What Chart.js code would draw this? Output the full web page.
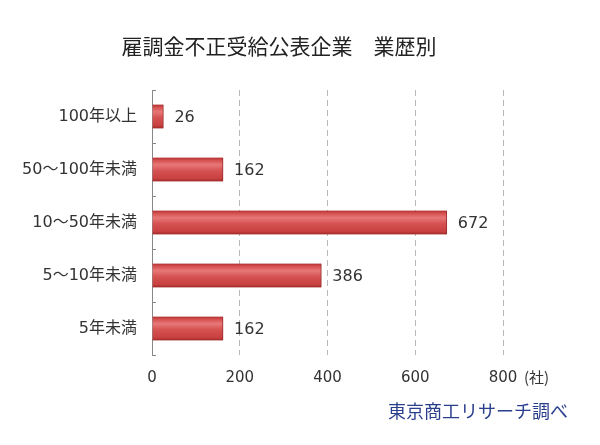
<!DOCTYPE html>
<html>
<head>
<meta charset="utf-8">
<script src="https://cdn.jsdelivr.net/npm/chart.js@4/dist/chart.umd.min.js"></script>
<style>
  html, body { margin: 0; padding: 0; background: #fff; }
  #chart { display: block; }
</style>
</head>
<body>
<canvas id="chart" width="600" height="445"></canvas>
<script>
const categories = ['100年以上', '50～100年未満', '10～50年未満', '5～10年未満', '5年未満'];
const companies = [26, 162, 672, 386, 162];
const xTicks = [0, 200, 400, 600, 800];
const titleText = '雇調金不正受給公表企業　業歴別';
const unitText = '(社)';
const sourceText = '東京商工リサーチ調べ';

const FONT = "'Noto Sans CJK JP', 'Noto Sans', sans-serif";
const NUM_FONT = "'DejaVu Sans', 'Noto Sans CJK JP', sans-serif";
const BAR_T = 24;

function barGradient(c) {
    const chart = c.chart;
    const y = chart.scales && chart.scales.y;
    if (!y || c.dataIndex == null) return '#d04848';
    const mid = y.getPixelForValue(c.dataIndex);
    if (!Number.isFinite(mid)) return '#d04848';
    const g = chart.ctx.createLinearGradient(0, mid - BAR_T / 2, 0, mid + BAR_T / 2);
    g.addColorStop(0, '#b03030');
    g.addColorStop(0.12, '#d65050');
    g.addColorStop(0.3, '#e77878');
    g.addColorStop(0.55, '#d65252');
    g.addColorStop(0.88, '#c84040');
    g.addColorStop(1, '#9c2626');
    return g;
}

const extras = {
    id: 'extras',
    afterDatasetsDraw(chart) {
        const ctx = chart.ctx;
        const meta = chart.getDatasetMeta(0);
        const ys = chart.scales.y;
        const area = chart.chartArea;
        ctx.save();
        // small inward tick marks between categories
        ctx.strokeStyle = '#888';
        ctx.lineWidth = 1;
        const step = ys.getPixelForValue(1) - ys.getPixelForValue(0);
        for (let i = 0; i <= categories.length; i++) {
            const py = Math.round(ys.getPixelForValue(i) - step / 2) + 0.5;
            ctx.beginPath();
            ctx.moveTo(area.left, py);
            ctx.lineTo(area.left + 4, py);
            ctx.stroke();
        }
        // value labels
        ctx.font = '16px ' + NUM_FONT;
        ctx.fillStyle = '#333';
        ctx.textAlign = 'left';
        ctx.textBaseline = 'middle';
        meta.data.forEach((bar, i) => {
            ctx.fillText(String(companies[i]), bar.x + 11, bar.y + 1);
        });
        ctx.restore();
    },
    afterDraw(chart) {
        const ctx = chart.ctx;
        const x = chart.scales.x;
        ctx.save();
        ctx.textBaseline = 'middle';
        // title
        ctx.font = '21px ' + FONT;
        ctx.fillStyle = '#222';
        ctx.textAlign = 'center';
        ctx.fillText(titleText, 279, 46);
        // unit after the last tick
        ctx.font = '15px ' + FONT;
        ctx.fillStyle = '#333';
        ctx.textAlign = 'left';
        ctx.fillText(unitText, x.getPixelForValue(800) + 21, 377);
        // source
        ctx.font = '18px ' + FONT;
        ctx.fillStyle = '#2a3f8c';
        ctx.textAlign = 'right';
        ctx.fillText(sourceText, 568, 411);
        ctx.restore();
    }
};

new Chart(document.getElementById('chart'), {
    type: 'bar',
    data: {
        labels: categories,
        datasets: [{
            data: companies,
            backgroundColor: barGradient,
            borderColor: '#9a2a2a',
            borderWidth: { top: 0, bottom: 0, left: 0, right: 1 },
            borderSkipped: false,
            barThickness: BAR_T
        }]
    },
    options: {
        indexAxis: 'y',
        responsive: false,
        animation: false,
        layout: { padding: { left: 0, right: 97, top: 90, bottom: 0 } },
        plugins: {
            legend: { display: false },
            tooltip: { enabled: false },
            title: { display: false }
        },
        scales: {
            x: {
                min: 0,
                max: 800,
                afterBuildTicks(scale) { scale.ticks = xTicks.map(v => ({ value: v })); },
                afterFit(scale) { scale.height = 90; },
                border: { display: false, dash: [6, 4] },
                grid: {
                    drawTicks: false,
                    color: c => c.tick && c.tick.value === 0 ? 'rgba(0,0,0,0)' : '#b8b8b8',
                    lineWidth: 1
                },
                ticks: {
                    color: '#333',
                    padding: 14,
                    maxRotation: 0,
                    font: { family: NUM_FONT, size: 15 }
                }
            },
            y: {
                afterFit(scale) { scale.width = 152; },
                border: { display: true, color: '#888', width: 1 },
                grid: { display: false, drawTicks: false },
                ticks: {
                    color: '#333',
                    padding: 15,
                    font: { family: NUM_FONT, size: 16 }
                }
            }
        }
    },
    plugins: [extras]
});
</script>
</body>
</html>
